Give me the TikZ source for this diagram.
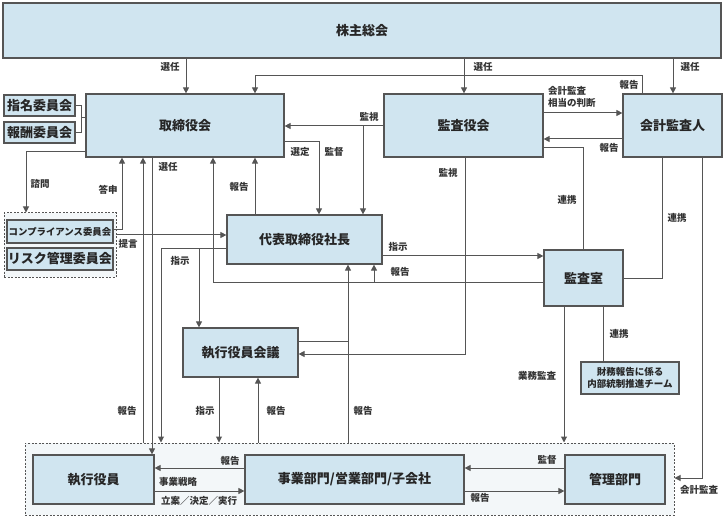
\documentclass[tikz,border=0pt]{standalone}
\usepackage{fontspec}
\setmainfont{Noto Sans CJK JP}
\usetikzlibrary{arrows.meta}
\definecolor{boxfill}{HTML}{D0E5F0}
\definecolor{edgecol}{HTML}{555555}
\definecolor{contfill}{HTML}{F3F7F9}
\tikzset{
 box/.style={draw=edgecol, fill=boxfill, line width=1.2pt, inner sep=0pt, align=center, font=\bfseries\fontsize{13}{15}\selectfont, text=black!85},
 cont/.style={draw=edgecol, fill=contfill, dash pattern=on 2pt off 1.5pt, line width=1pt, inner sep=0pt},
 conn/.style={draw=edgecol, line width=1pt},
 arr/.style={conn, -{Triangle[length=6pt,width=6pt]}},
 lbl/.style={font=\bfseries\fontsize{9.5}{12}\selectfont, inner sep=0pt, text=black!80},
}
\begin{document}
\begin{tikzpicture}[x=1pt,y=-1pt]
\useasboundingbox (0,0) rectangle (725,521);
% containers
\node[cont, minimum width=649pt, minimum height=72pt] (cont) at (349.5,479) {};
\node[cont, minimum width=112pt, minimum height=64pt] (lcont) at (60,245) {};
% boxes
\node[box, minimum width=718pt, minimum height=55pt] (sh) at (362,30.5) {株主総会};
\node[box, minimum width=198pt, minimum height=63pt] (bod) at (185,125.5) {取締役会};
\node[box, minimum width=71pt, minimum height=21pt] (nom) at (39.5,105.5) {指名委員会};
\node[box, minimum width=71pt, minimum height=21pt] (rem) at (39.5,132.5) {報酬委員会};
\node[box, minimum width=159pt, minimum height=63pt] (kas) at (463.5,125.5) {監査役会};
\node[box, minimum width=99pt, minimum height=63pt] (acc) at (672.5,125.5) {会計監査人};
\node[box, minimum width=155pt, minimum height=49pt] (ceo) at (304.5,239.5) {代表取締役社長};
\node[box, minimum width=79pt, minimum height=56pt] (aud) at (583.5,278) {監査室};
\node[box, minimum width=115pt, minimum height=49pt] (exm) at (240.5,352.5) {執行役員会議};
\node[box, minimum width=98pt, minimum height=32pt, font=\bfseries\fontsize{9.5}{12}\selectfont] (team) at (630,378) {財務報告に係る\\内部統制推進チーム};
\node[box, minimum width=121pt, minimum height=49pt] (exo) at (93.5,479.5) {執行役員};
\node[box, minimum width=219pt, minimum height=49pt] (biz) at (354.5,479.5) {事業部門/営業部門/子会社};
\node[box, minimum width=100pt, minimum height=49pt] (adm) at (615,479.5) {管理部門};
\node[box, minimum width=106pt, minimum height=23pt, font=\bfseries\fontsize{9.4}{11}\selectfont] (comp) at (60,231.5) {コンプライアンス委員会};
\node[box, minimum width=106pt, minimum height=22pt] (risk) at (60,259) {リスク管理委員会};
% 選任 from 株主総会
\draw[arr] (186,0 |- sh.south) -- (186,0 |- bod.north);
\draw[arr] (464,0 |- sh.south) -- (464,0 |- kas.north);
\draw[arr] (673,0 |- sh.south) -- (673,0 |- acc.north);
\node[lbl] (l1) at (170,67) {選任};
\node[lbl] (l2) at (483,67) {選任};
\node[lbl] (l3) at (690,67) {選任};
% 会計監査人 -> 取締役会 報告
\draw[arr] (642,0 |- acc.north) |- (255,76) -- (255,0 |- bod.north);
\node[lbl] (l4) at (629,85) {報告};
% 監査役会 <-> 会計監査人
\draw[arr] (kas.east |- 0,113) -- (acc.west |- 0,113);
\node[lbl, align=left, anchor=west] (l5) at (548,97) {会計監査\\相当の判断};
\draw[arr] (acc.west |- 0,139) -- (kas.east |- 0,139);
\node[lbl] (l6) at (609,148) {報告};
% 監査役会 -> 取締役会 / 代表 監視
\draw[arr] (kas.west |- 0,126) -- (bod.east |- 0,126);
\coordinate (j1) at (363,126);
\draw[arr] (j1) -- (363,0 |- ceo.north);
\node[lbl] (l7) at (369,117) {監視};
% 取締役会 -> 代表 選定 監督
\draw[arr] (bod.east |- 0,142) -| (319,0 |- ceo.north);
\node[lbl] (l8) at (300,152) {選定};
\node[lbl] (l9) at (334,152) {監督};
% 監査役会 -> 執行役員会議 監視
\draw[arr] (465,0 |- kas.south) |- (exm.east |- 0,354);
\node[lbl] (l10) at (448,173) {監視};
% 連携
\draw[conn] (kas.east |- 0,148) -| (583,0 |- aud.north);
\node[lbl] (l11) at (567,200) {連携};
\draw[conn] (662,0 |- acc.south) |- (aud.east |- 0,278);
\node[lbl] (l12) at (677,218) {連携};
% 会計監査
\draw[arr] (702,0 |- acc.south) |- (cont.east |- 0,478);
\node[lbl] (l13) at (699,490) {会計監査};
% 代表 -> 監査室 指示
\draw[arr] (ceo.east |- 0,256) -- (aud.west |- 0,256);
\node[lbl] (l14) at (398,247) {指示};
% 監査室 -> 報告
\draw[arr] (aud.west |- 0,282) -| (213,0 |- bod.south);
\coordinate (j2) at (374,282);
\draw[arr] (j2) -- (374,0 |- ceo.south);
\node[lbl] (l15) at (400,272) {報告};
% 代表 -> 取締役会 報告
\draw[arr] (255,0 |- ceo.north) -- (255,0 |- bod.south);
\node[lbl] (l16) at (239,187) {報告};
% 答申
\draw[arr] (comp.east |- 0,230) -| (122,0 |- bod.south);
\node[lbl] (l17) at (108,190) {答申};
% 諮問
\draw[arr] (bod.west |- 0,152) -| (26,0 |- lcont.north);
\node[lbl] (l18) at (40,184) {諮問};
% 提言
\draw[arr] (lcont.east |- 0,235) -- (ceo.west |- 0,235);
\node[lbl] (l19) at (128,244) {提言};
% 報告 cont -> 取締役会
\draw[arr] (143,0 |- cont.north) -- (143,0 |- bod.south);
\node[lbl] (l20) at (127,411) {報告};
% 選任 取締役会 -> 執行役員
\draw[arr] (152,0 |- bod.south) -- (152,0 |- exo.north);
\node[lbl] (l21) at (168,167) {選任};
% 指示 代表 -> 執行役員会議 / cont
\draw[arr] (ceo.west |- 0,249) -| (199,0 |- exm.north);
\coordinate (j3) at (199,249);
\draw[arr] (j3) -| (161,0 |- cont.north);
\node[lbl] (l22) at (180,261) {指示};
% 執行役員会議 <-> cont
\draw[arr] (219,0 |- exm.south) -- (219,0 |- cont.north);
\node[lbl] (l23) at (205,411) {指示};
\draw[arr] (258,0 |- cont.north) -- (258,0 |- exm.south);
\node[lbl] (l24) at (276,411) {報告};
% cont -> 代表 報告
\draw[arr] (348,0 |- cont.north) -- (348,0 |- ceo.south);
\coordinate (j4) at (348,341);
\draw[conn] (exm.east |- 0,341) -- (j4);
\node[lbl] (l25) at (363,411) {報告};
% 業務監査
\draw[arr] (564,0 |- aud.south) -- (564,0 |- cont.north);
\node[lbl] (l26) at (537,376) {業務監査};
% 連携 team
\draw[conn] (603,0 |- aud.south) -- (603,0 |- team.north);
\node[lbl] (l27) at (619,334) {連携};
% bottom
\draw[arr] (biz.west |- 0,468) -- (exo.east |- 0,468);
\node[lbl] (l28) at (230,461) {報告};
\draw[arr] (exo.east |- 0,491) -- (biz.west |- 0,491);
\node[lbl] (l29) at (178,482) {事業戦略};
\node[lbl] (l30) at (199,501) {立案／決定／実行};
\draw[arr] (adm.west |- 0,468) -- (biz.east |- 0,468);
\node[lbl] (l31) at (547,460) {監督};
\draw[arr] (biz.east |- 0,491) -- (adm.west |- 0,491);
\node[lbl] (l32) at (480,498) {報告};
% bracket
\coordinate (b1) at (81,118);
\draw[conn] (nom.east) -- (81,0 |- nom.east) -- (81,0 |- rem.east) -- (rem.east);
\draw[conn] (b1) -- (bod.west |- b1);
\end{tikzpicture}
\end{document}
